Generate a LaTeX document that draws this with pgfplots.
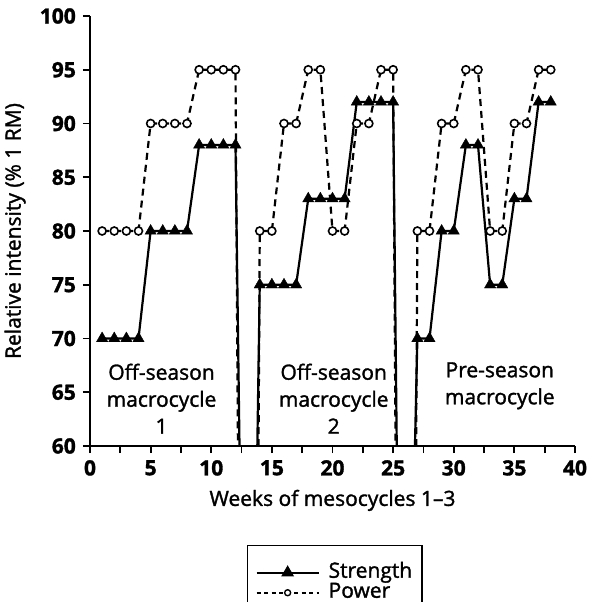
\documentclass[border=0pt]{standalone}
\usepackage{fontspec}
\setmainfont{Open Sans}[FakeBold=1.5]
\usepackage{pgfplots}
\pgfplotsset{compat=1.18}
\begin{document}
\fontsize{21}{26}\selectfont
\begin{tikzpicture}
\begin{axis}[
 scale only axis, width=485pt, height=430pt,
 xmin=0, xmax=40, ymin=60, ymax=100,
 axis lines*=left, axis line style={-, line width=1.8pt},
 xtick={0,5,...,40}, ytick={60,65,...,100},
 minor x tick num=1,
 tick align=outside, major tick length=7pt, minor tick length=7pt,
 tick style={black, line width=1.8pt},
 tick label style={font=\fontsize{21}{24}\selectfont\bfseries},
 /pgf/number format/assume math mode=true,
 xlabel={Weeks of mesocycles 1--3},
 ylabel={Relative intensity (\% 1 RM)},
 label style={font=\fontsize{21}{24}\selectfont},
 legend style={at={(0.505,-0.2302)}, anchor=north, draw=black, line width=1.5pt,
   font=\fontsize{21}{24}\selectfont, row sep=0pt, column sep=7pt,
   inner xsep=8pt, inner ysep=17pt,
   nodes={text height=15pt, text depth=5pt, inner ysep=0pt}},
 legend cell align=left,
 legend image code/.code={\draw[mark repeat=2,mark phase=2,#1] plot coordinates {(0pt,0pt) (31pt,0pt) (62pt,0pt)};},
 unbounded coords=jump,
 clip=false,
]
\coordinate (bbSW) at (axis cs:0,60);
\coordinate (bbNE) at (axis cs:40,100);
% Strength line
\addplot[black, line width=2.2pt, forget plot] coordinates {
(1,70)(2,70)(3,70)(4,70)(5,80)(6,80)(7,80)(8,80)(9,88)(10,88)(11,88)(12,88)
(12.33,60)(13,nan)(13.8,60)
(14,75)(15,75)(16,75)(17,75)(18,83)(19,83)(20,83)(21,83)(22,92)(23,92)(24,92)(25,92)
(25.3,60)(26,nan)(26.8,60)
(27,70)(28,70)(29,80)(30,80)(31,88)(32,88)(33,75)(34,75)(35,83)(36,83)(37,92)(38,92)};
% Power line
\addplot[black, line width=2.2pt, dash pattern=on 7pt off 5pt, forget plot] coordinates {
(1,80)(2,80)(3,80)(4,80)(5,90)(6,90)(7,90)(8,90)(9,95)(10,95)(11,95)(12,95)
(12.2,60)(13,nan)(13.9,60)
(14,80)(15,80)(16,90)(17,90)(18,95)(19,95)(20,80)(21,80)(22,90)(23,90)(24,95)(25,95)
(25.2,60)(26,nan)(26.9,60)
(27,80)(28,80)(29,90)(30,90)(31,95)(32,95)(33,80)(34,80)(35,90)(36,90)(37,95)(38,95)};
% Strength marks
\addplot[only marks, mark=triangle*, mark size=6.5pt, black, forget plot] coordinates {
(1,70)(2,70)(3,70)(4,70)(5,80)(6,80)(7,80)(8,80)(9,88)(10,88)(11,88)(12,88)
(14,75)(15,75)(16,75)(17,75)(18,83)(19,83)(20,83)(21,83)(22,92)(23,92)(24,92)(25,92)
(27,70)(28,70)(29,80)(30,80)(31,88)(32,88)(33,75)(34,75)(35,83)(36,83)(37,92)(38,92)};
% Power marks
\addplot[only marks, mark=*, mark size=4pt, black, mark options={line width=1.6pt, fill=white}, forget plot] coordinates {
(1,80)(2,80)(3,80)(4,80)(5,90)(6,90)(7,90)(8,90)(9,95)(10,95)(11,95)(12,95)
(14,80)(15,80)(16,90)(17,90)(18,95)(19,95)(20,80)(21,80)(22,90)(23,90)(24,95)(25,95)
(27,80)(28,80)(29,90)(30,90)(31,95)(32,95)(33,80)(34,80)(35,90)(36,90)(37,95)(38,95)};
\addlegendimage{black, line width=2pt, mark=triangle*, mark size=5.5pt, mark options={solid}}
\addlegendentry{Strength}
\addlegendimage{black, line width=1.8pt, dash pattern=on 4pt off 3.5pt, mark=*, mark size=3pt, mark options={solid, fill=white, line width=1.4pt}}
\addlegendentry{Power}
\node[align=center, font=\fontsize{21}{27}\selectfont] at (axis cs:5.9,64.4) {Off-season\\macrocycle\\1};
\node[align=center, font=\fontsize{21}{27}\selectfont] at (axis cs:20.1,64.4) {Off-season\\macrocycle\\2};
\node[align=center, font=\fontsize{21}{27}\selectfont] at (axis cs:33.8,65.6) {Pre-season\\macrocycle};
\end{axis}
\pgfresetboundingbox
\path[use as bounding box] ([xshift=-90pt,yshift=-156pt]bbSW) rectangle ([xshift=14pt,yshift=16pt]bbNE);
\end{tikzpicture}
\end{document}
